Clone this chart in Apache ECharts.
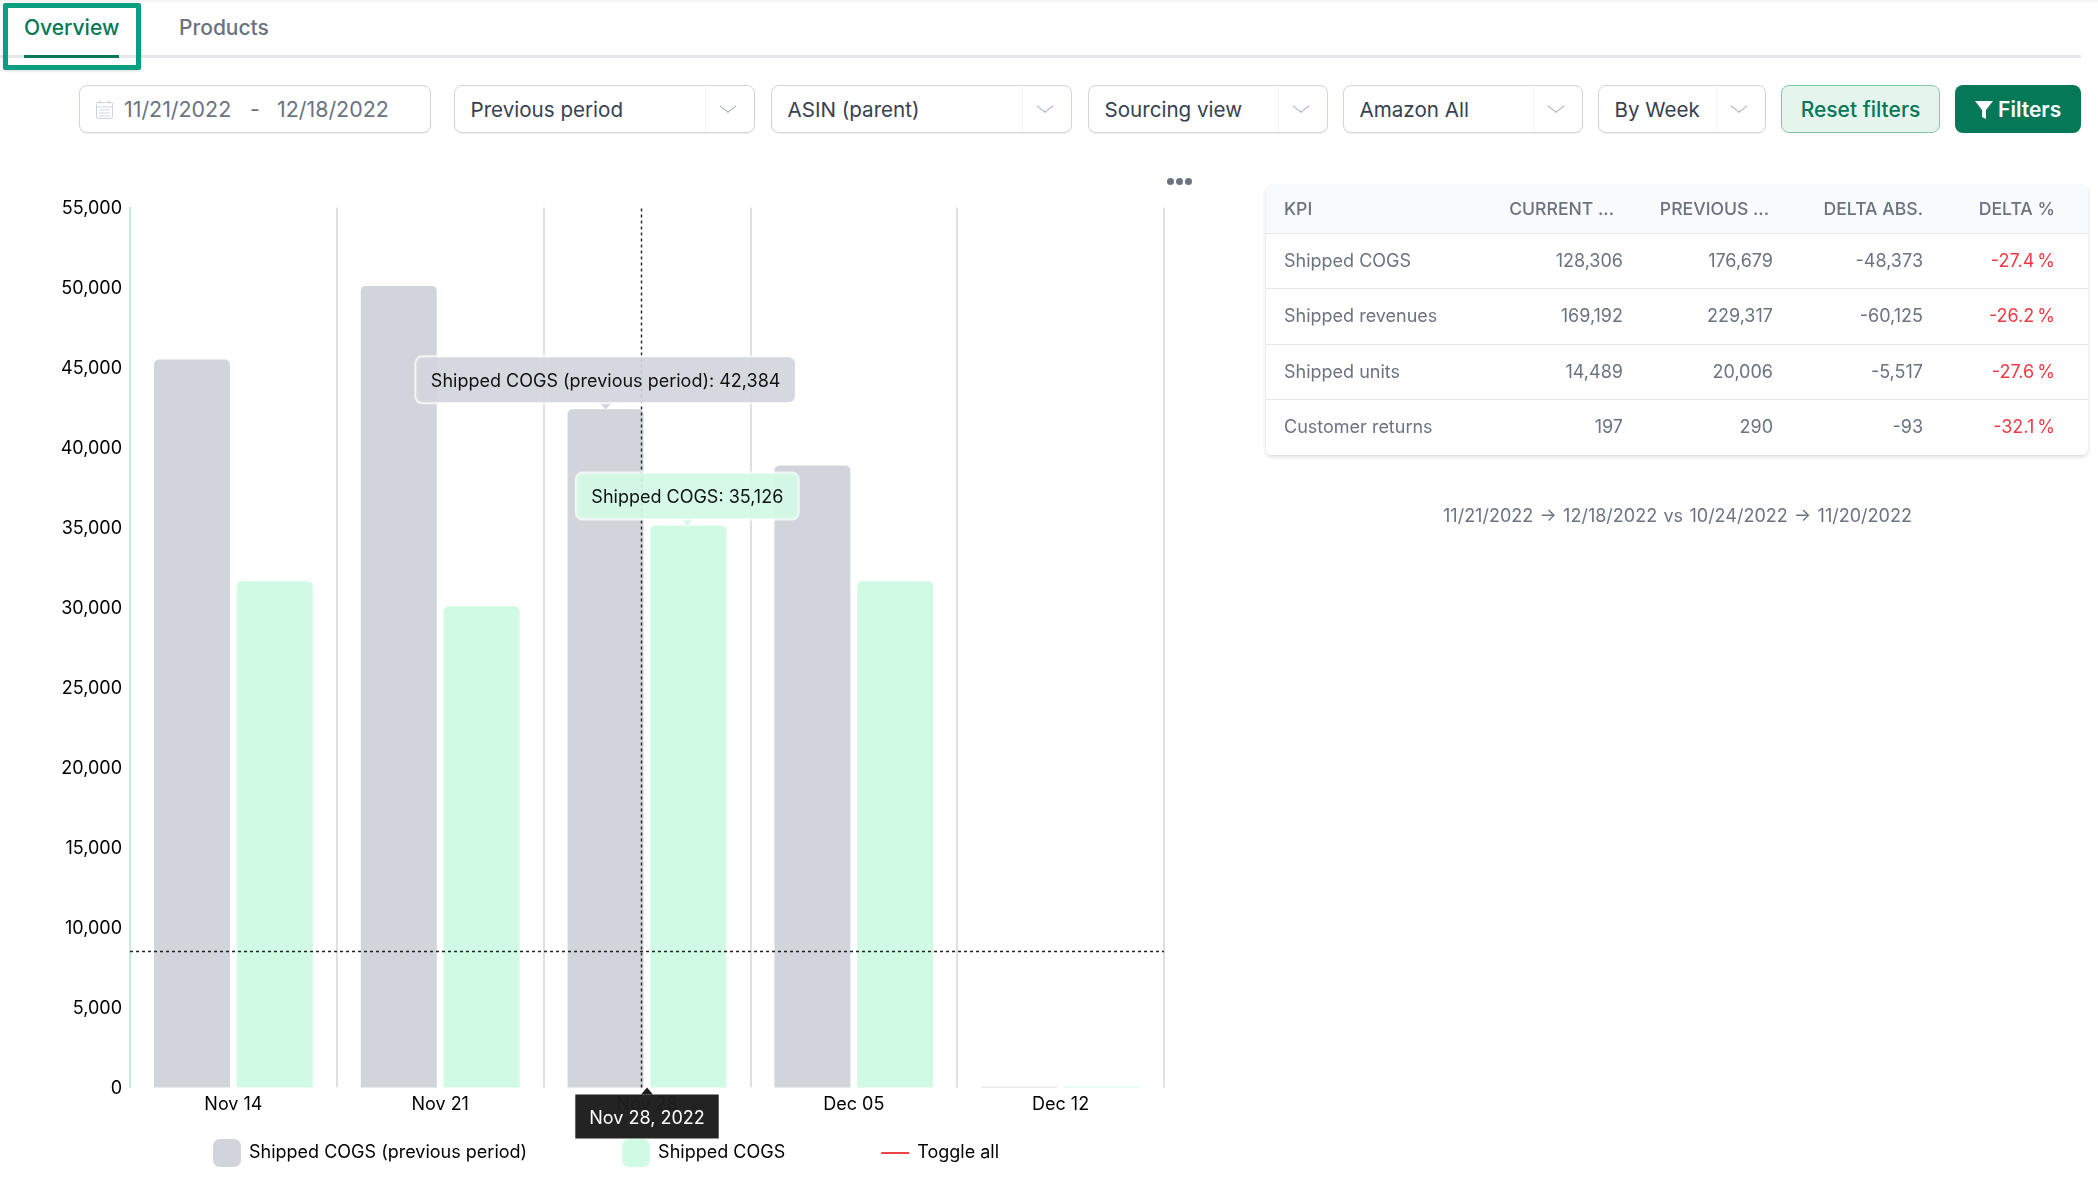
<!DOCTYPE html>
<html>
<head>
<meta charset="utf-8">
<script src="https://cdn.jsdelivr.net/npm/echarts@6/dist/echarts.min.js"></script>
<style>
  html, body { margin: 0; padding: 0; background: #fff; }
  body { width: 2098px; height: 1178px; position: relative; overflow: hidden; font-family: Inter, sans-serif; }
  #chart { position: absolute; left: 0; top: 0; width: 2098px; height: 1178px; }
  .abs { position: absolute; white-space: nowrap; }
  .topline { left: 0; top: 0; width: 2098px; height: 2px; background: #f3f4f6; }
  .tabline { left: 0; top: 55px; width: 2081px; height: 3px; background: #e5e7eb; }
  .tab { font-size: 21px; font-weight: 500; line-height: 28px; top: 14px; }
  .tabbox { left: 3px; top: 3px; width: 128px; height: 57px; border: 5px solid #0a9e80; border-radius: 2px; box-shadow: 0 1px 3px rgba(0,0,0,.15); }
  .box { top: 85px; height: 48px; box-sizing: border-box; border: 1px solid #d1d5db; border-radius: 8px; box-shadow: 0 1px 1px rgba(0,0,0,.06); background: #fff; font-size: 20.6px; line-height: 47px; color: #374151; }
  .box span { position: absolute; top: 0; }
  .chev { position: absolute; top: 14px; width: 11px; height: 11px; border-right: 1px solid #9ca3af; border-bottom: 1px solid #9ca3af; transform: scaleY(.8) rotate(45deg); }
  .sep { position: absolute; top: 1px; bottom: 1px; width: 1px; background: #f3f4f6; }
  .btn { top: 85px; height: 48px; box-sizing: border-box; border-radius: 8px; font-size: 21px; line-height: 47px; text-align: center; font-weight: 500; }
  .dots { left: 1167px; top: 178px; width: 25px; height: 7px; }
  .dots i { position: absolute; top: 0; width: 7px; height: 7px; border-radius: 50%; background: #6b7280; }
  .card { left: 1266px; top: 185px; width: 822px; height: 270px; border-radius: 6px; box-shadow: 0 2px 4px rgba(0,0,0,.14), 0 0 2px rgba(0,0,0,.05); background: #fff; overflow: hidden; }
  .row { position: absolute; left: 0; width: 822px; border-bottom: 1px solid #e5e7eb; box-sizing: border-box; }
  .cell { position: absolute; top: 0; font-size: 18px; color: #6b7280; white-space: nowrap; text-align: right; }
  .caption { left: 1443px; top: 504px; font-size: 18px; line-height: 24px; color: #6b7280; word-spacing: 1.3px; }
</style>
</head>
<body>
<div class="abs topline"></div>
<div class="abs tabline"></div>
<div class="abs" style="left:24px;top:55px;width:95px;height:3px;background:#047857"></div>
<div class="abs tab" style="left:24px;color:#047857">Overview</div>
<div class="abs tab" style="left:179px;color:#6b7280">Products</div>
<div class="abs tabbox"></div>
<div id="filters"></div>
<div class="abs btn" style="left:1781px;width:159px;background:#e6f4ee;border:1px solid #84c7ab;color:#047857">Reset filters</div>
<div class="abs btn" style="left:1955px;width:126px;background:#047857;color:#fff;font-weight:600;line-height:49px">
  <svg width="18" height="20" viewBox="0 0 18 20" style="vertical-align:-3px"><path d="M0 1h18l-7 9v9l-4-2v-7z" fill="#fff"/></svg> Filters
</div>
<div id="chart"></div>
<div class="abs dots"><i style="left:0"></i><i style="left:9px"></i><i style="left:18px"></i></div>
<div class="abs card" id="table"></div>
<div class="abs caption">11/21/2022 → 12/18/2022 vs 10/24/2022 → 11/20/2022</div>

<script>
var categories = ['Nov 14', 'Nov 21', 'Nov 28', 'Dec 05', 'Dec 12'];
var previousCogs = [45500, 50100, 42384, 38875, 40];
var currentCogs = [31640, 30080, 35126, 31640, 60];
var yTicks = { min: 0, max: 55000, interval: 5000 };
var seriesNames = ['Shipped COGS (previous period)', 'Shipped COGS', 'Toggle all'];

// crosshair and tooltip anchors, on a hidden 0..5 axis where 1 = one week band
var crossX = 2.474;
var crossY = 8500;
var tipPrevX = 2.3;
var tipCurrX = 2.695;
var pointerX = 2.5;
var hoverIndex = 2;
var hoverLabel = 'Nov 28, 2022';

var kpiHeader = ['KPI', 'CURRENT ...', 'PREVIOUS ...', 'DELTA ABS.', 'DELTA %'];
var kpiNames = ['Shipped COGS', 'Shipped revenues', 'Shipped units', 'Customer returns'];
var kpiCurrent = ['128,306', '169,192', '14,489', '197'];
var kpiPrevious = ['176,679', '229,317', '20,006', '290'];
var kpiDeltaAbs = ['-48,373', '-60,125', '-5,517', '-93'];
var kpiDeltaPct = ['-27.4 %', '-26.2 %', '-27.6 %', '-32.1 %'];

var filterBoxes = [
  { name: 'Previous period', left: 454, width: 301 },
  { name: 'ASIN (parent)', left: 771, width: 301 },
  { name: 'Sourcing view', left: 1088, width: 240 },
  { name: 'Amazon All', left: 1343, width: 240 },
  { name: 'By Week', left: 1598, width: 168 }
];

function fmt(v) {
  return v.toLocaleString('en-US');
}

function buildFilters() {
  var html = '<div class="abs box" style="left:79px;width:352px;font-size:21.4px">' +
    '<svg style="position:absolute;left:16px;top:14px" width="17" height="19" viewBox="0 0 17 19"><rect x=".5" y="2.5" width="16" height="16" rx="1.5" fill="none" stroke="#d1d5db"/><path d="M1 7h15M4 0v4M13 0v4M3 10h11M3 13h11M3 16h11" stroke="#d1d5db"/></svg>' +
    '<span style="left:44px;color:#6b7280">11/21/2022</span><span style="left:170px;color:#6b7280">-</span><span style="left:197px;color:#6b7280">12/18/2022</span></div>';
  filterBoxes.forEach(function (b) {
    html += '<div class="abs box" style="left:' + b.left + 'px;width:' + b.width + 'px"><span style="left:15.5px">' + b.name + '</span>' +
      '<div class="sep" style="right:48px"></div><div class="chev" style="right:20px"></div></div>';
  });
  document.getElementById('filters').innerHTML = html;
}

function buildTable() {
  var headRights = [0, 1614, 1769, 1923, 2055];
  var rights = [0, 1623, 1773, 1923, 2055];
  var tops = [0, 48, 103, 159, 214];
  var heights = [48, 55, 56, 55, 56];
  var html = '';
  function cell(text, i, r, color, weight, rh, extra) {
    var pos = i === 0 ? 'left:18px' : 'right:' + (2088 - r[i]) + 'px';
    return '<div class="cell" style="' + pos + ';line-height:' + rh + 'px;color:' + color + ';font-weight:' + weight + ';' + (extra || '') + '">' + text + '</div>';
  }
  html += '<div class="row" style="top:0;height:49px;background:#f9fafb">';
  kpiHeader.forEach(function (h, i) {
    html += cell(h, i, headRights, '#6b7280', 500, 48, 'font-size:17.6px');
  });
  html += '</div>';
  kpiNames.forEach(function (n, r) {
    var rh = heights[r + 1];
    var lh = r % 2 ? rh - 2 : rh - 1;
    html += '<div class="row" style="top:' + (tops[r + 1] + 1) + 'px;height:' + rh + 'px' + (r === 3 ? ';border-bottom:none' : '') + '">';
    html += cell(n, 0, rights, '#6b7280', 400, lh);
    html += cell(kpiCurrent[r], 1, rights, '#6b7280', 400, lh);
    html += cell(kpiPrevious[r], 2, rights, '#6b7280', 400, lh);
    html += cell(kpiDeltaAbs[r], 3, rights, '#6b7280', 400, lh);
    html += cell(kpiDeltaPct[r], 4, rights, '#f23a45', 400, lh, 'word-spacing:-2px');
    html += '</div>';
  });
  document.getElementById('table').innerHTML = html;
}

function tipLabel(text, bg) {
  return {
    show: true,
    position: 'top',
    distance: 0,
    formatter: text,
    fontFamily: 'Inter',
    fontSize: 18,
    color: '#111',
    backgroundColor: bg,
    borderColor: 'rgba(255,255,255,0.75)',
    borderWidth: 2,
    borderRadius: 6,
    padding: [15, 14.5, 12, 14.5]
  };
}

function drawChart() {
  var myChart = echarts.init(document.getElementById('chart'));
  var downArrow = 'path://M0,0 L12,0 L6,7 Z';
  var option = {
    animation: false,
    grid: { left: 130, right: 934, top: 207.5, bottom: 90.5, containLabel: false },
    legend: {
      left: 213,
      top: 1139,
      padding: 0,
      itemWidth: 28,
      itemHeight: 28,
      itemGap: 95,
      selectedMode: false,
      textStyle: { fontFamily: 'Inter', fontSize: 18, color: '#000', padding: [5, 0, 0, 3] },
      data: [
        { name: seriesNames[0], icon: 'roundRect' },
        { name: seriesNames[1], icon: 'roundRect' },
        { name: seriesNames[2], itemStyle: { opacity: 0 }, lineStyle: { color: '#f04444', width: 2, opacity: 1 } }
      ]
    },
    xAxis: [
      {
        type: 'category',
        data: categories,
        axisLine: { show: false },
        axisTick: { show: false },
        axisLabel: { fontFamily: 'Inter', fontSize: 18, color: '#000', margin: 8 },
        splitLine: { show: true, lineStyle: { color: '#e0e0e2', width: 2 } }
      },
      { type: 'value', min: 0, max: 5, show: false }
    ],
    yAxis: {
      type: 'value',
      min: yTicks.min,
      max: yTicks.max,
      interval: yTicks.interval,
      axisLine: { show: true, lineStyle: { color: '#c6ebdc', width: 2 } },
      axisTick: { show: false },
      splitLine: { show: false },
      // lineHeight nudges the labels about 1px below the tick
      axisLabel: { fontFamily: 'Inter', fontSize: 18, color: '#000', margin: 8, verticalAlign: 'top', lineHeight: 3, formatter: fmt }
    },
    series: [
      {
        name: seriesNames[0],
        type: 'bar',
        data: previousCogs,
        barWidth: 76,
        barGap: '9%',
        itemStyle: { color: '#d1d5db', borderRadius: [5, 5, 0, 0] }
      },
      {
        name: seriesNames[1],
        type: 'bar',
        data: currentCogs,
        barWidth: 76,
        barGap: '9%',
        itemStyle: { color: '#d1fae5', borderRadius: [5, 5, 0, 0] }
      },
      {
        name: seriesNames[2],
        type: 'line',
        xAxisIndex: 1,
        symbol: 'none',
        data: [],
        color: '#f04444',
        lineStyle: { color: '#f04444', width: 2 },
        markLine: {
          silent: true,
          symbol: 'none',
          z: 5,
          animation: false,
          label: { show: false },
          lineStyle: { color: '#222', type: [3, 3], width: 1.4 },
          data: [{ xAxis: crossX }, { yAxis: crossY }]
        },
        markPoint: {
          silent: true,
          z: 6,
          animation: false,
          data: [
            {
              coord: [tipPrevX, previousCogs[hoverIndex]],
              symbol: downArrow,
              symbolSize: [14, 7],
              symbolOffset: [0, '-50%'],
              itemStyle: { color: 'rgba(209,213,219,0.95)' },
              label: tipLabel(seriesNames[0] + ': ' + fmt(previousCogs[hoverIndex]), 'rgba(209,213,219,0.92)')
            },
            {
              coord: [tipCurrX, currentCogs[hoverIndex]],
              symbol: downArrow,
              symbolSize: [14, 7],
              symbolOffset: [0, '-50%'],
              itemStyle: { color: 'rgba(209,250,229,0.95)' },
              label: tipLabel(seriesNames[1] + ': ' + fmt(currentCogs[hoverIndex]), 'rgba(209,250,229,0.92)')
            },
            {
              coord: [pointerX, 0],
              symbol: 'path://M6,0 L12,7 L0,7 Z',
              symbolSize: [12, 7],
              symbolOffset: [0, '50%'],
              itemStyle: { color: '#1c1c1c' },
              label: {
                show: true,
                position: 'bottom',
                distance: 0,
                formatter: hoverLabel,
                fontFamily: 'Inter',
                fontSize: 18,
                color: '#fff',
                backgroundColor: 'rgba(28,28,28,0.97)',
                padding: [15, 14, 11, 14]
              }
            }
          ]
        }
      }
    ]
  };
  myChart.setOption(option);
}

buildFilters();
buildTable();
drawChart();
</script>
</body>
</html>
